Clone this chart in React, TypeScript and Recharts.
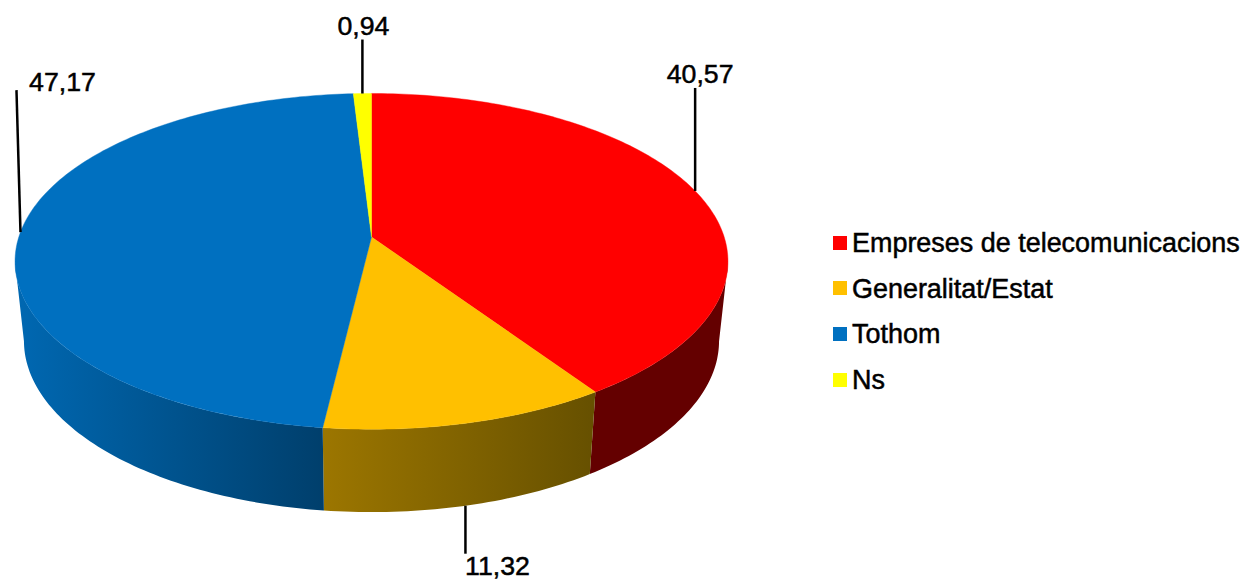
import { PieChart, Pie, Legend } from 'recharts'

const categories = ['Empreses de telecomunicacions', 'Generalitat/Estat', 'Tothom', 'Ns']
const shares = [40.57, 11.32, 47.17, 0.94]
const topColors = ['#ff0000', '#ffc000', '#0070c0', '#ffff00']
const wallFills = ['#640000', 'url(#wallOrange)', 'url(#wallBlue)', '#666600']

const tableData = categories.map((name, i) => ({ name, value: shares[i], fill: topColors[i] }))

// leader line end and text position, relative to where the leader leaves the pie
const labelLayout = [
  { endX: 0, endY: -103, textX: 5, textY: -108 },
  { endX: 0, endY: 48, textX: 32, textY: 69 },
  { endX: -4, endY: -142, textX: 42, textY: -141 },
  { endX: 0, endY: -54, textX: 1, textY: -59 },
]

// fake 3D: the flat pie is projected with a small perspective
const PERSPECTIVE = 0.145
const SQUASH = 0.466
const WALL_DROP = 79
const WALL_FROM = 98.5
const WALL_TO = 261.5

const rimPoint = (cx: number, cy: number, r: number, angle: number, bottom = false) => {
  const rad = (angle * Math.PI) / 180
  const u = Math.sin(rad)
  const v = Math.cos(rad)
  const d = 1 + PERSPECTIVE * v
  if (bottom) {
    return { x: cx + (0.975 * r * u) / d, y: cy + WALL_DROP - (1.02 * SQUASH * r * v) / d }
  }
  return { x: cx + (r * u) / d, y: cy - (SQUASH * r * v) / d }
}

const arcPoints = (cx: number, cy: number, r: number, from: number, to: number, bottom = false) => {
  const steps = Math.max(2, Math.ceil(Math.abs(to - from)))
  const pts = []
  for (let i = 0; i <= steps; i++) {
    pts.push(rimPoint(cx, cy, r, from + ((to - from) * i) / steps, bottom))
  }
  return pts
}

const toPath = (pts: { x: number; y: number }[]) =>
  pts.map((p, i) => `${i === 0 ? 'M' : 'L'}${p.x.toFixed(2)},${p.y.toFixed(2)}`).join(' ') + ' Z'

function TopSlice(props: any) {
  const { cx, cy, outerRadius, startAngle, endAngle, fill } = props
  const pts = [{ x: cx, y: cy }, ...arcPoints(cx, cy, outerRadius, 90 - startAngle, 90 - endAngle)]
  return <path d={toPath(pts)} fill={fill} stroke={fill} strokeWidth={0.4} />
}

function WallSlice(props: any) {
  const { cx, cy, outerRadius, startAngle, endAngle, index } = props
  const from = Math.max(90 - startAngle, WALL_FROM)
  const to = Math.min(90 - endAngle, WALL_TO)
  if (to <= from) return <g />
  const upper = arcPoints(cx, cy, outerRadius, from, to)
  const lower = arcPoints(cx, cy, outerRadius, to, from, true)
  return <path d={toPath([...upper, ...lower])} fill={wallFills[index]} />
}

function renderLabel(props: any) {
  const { cx, cy, outerRadius, midAngle, value, index } = props
  const angle = 90 - midAngle
  // the label of a slice facing the viewer hangs under the wall
  const start = rimPoint(cx, cy, outerRadius, angle, angle > WALL_FROM && angle < WALL_TO)
  const l = labelLayout[index]
  return (
    <g key={index}>
      <line x1={start.x} y1={start.y} x2={start.x + l.endX} y2={start.y + l.endY} stroke="#000" strokeWidth={2.5} />
      <text
        x={start.x + l.textX}
        y={start.y + l.textY}
        textAnchor="middle"
        fontFamily="Liberation Sans"
        fontSize={26.7}
        fill="#000"
        stroke="#000"
        strokeWidth={0.5}
      >
        {String(value).replace('.', ',')}
      </text>
    </g>
  )
}

const legendText = (value: string) => (
  <span
    style={{
      color: '#000',
      fontSize: 26.95,
      lineHeight: '45.7px',
      whiteSpace: 'nowrap',
      position: 'relative',
      top: 5,
      marginLeft: 1,
      WebkitTextStroke: '0.5px #000',
    }}
  >
    {value}
  </span>
)

export default function App() {
  return (
    <div style={{ position: 'absolute', left: 0, top: 0, width: 1240, height: 580, background: '#fff', fontFamily: 'Liberation Sans' }}>
      <PieChart width={1240} height={580} margin={{ top: 0, right: 0, bottom: 0, left: 0 }}>
        <defs>
          <linearGradient id="wallBlue" x1="0" y1="0" x2="1" y2="0">
            <stop offset="0%" stopColor="#0068b2" />
            <stop offset="100%" stopColor="#003f6c" />
          </linearGradient>
          <linearGradient id="wallOrange" x1="0" y1="0" x2="1" y2="0">
            <stop offset="0%" stopColor="#9c7600" />
            <stop offset="100%" stopColor="#665000" />
          </linearGradient>
        </defs>
        <Pie
          data={tableData}
          dataKey="value"
          nameKey="name"
          cx={371.5}
          cy={237}
          outerRadius={352.7}
          startAngle={90}
          endAngle={-270}
          legendType="none"
          shape={WallSlice}
          label={false}
          labelLine={false}
          isAnimationActive={false}
        />
        <Pie
          data={tableData}
          dataKey="value"
          nameKey="name"
          cx={371.5}
          cy={237}
          outerRadius={352.7}
          startAngle={90}
          endAngle={-270}
          shape={TopSlice}
          label={renderLabel}
          labelLine={false}
          isAnimationActive={false}
        />
        <Legend
          layout="vertical"
          align="right"
          verticalAlign="top"
          iconType="square"
          iconSize={14}
          itemSorter={null}
          formatter={legendText}
          wrapperStyle={{ left: 833, top: 216, width: 407, whiteSpace: 'nowrap', textAlign: 'left' }}
        />
      </PieChart>
    </div>
  )
}
